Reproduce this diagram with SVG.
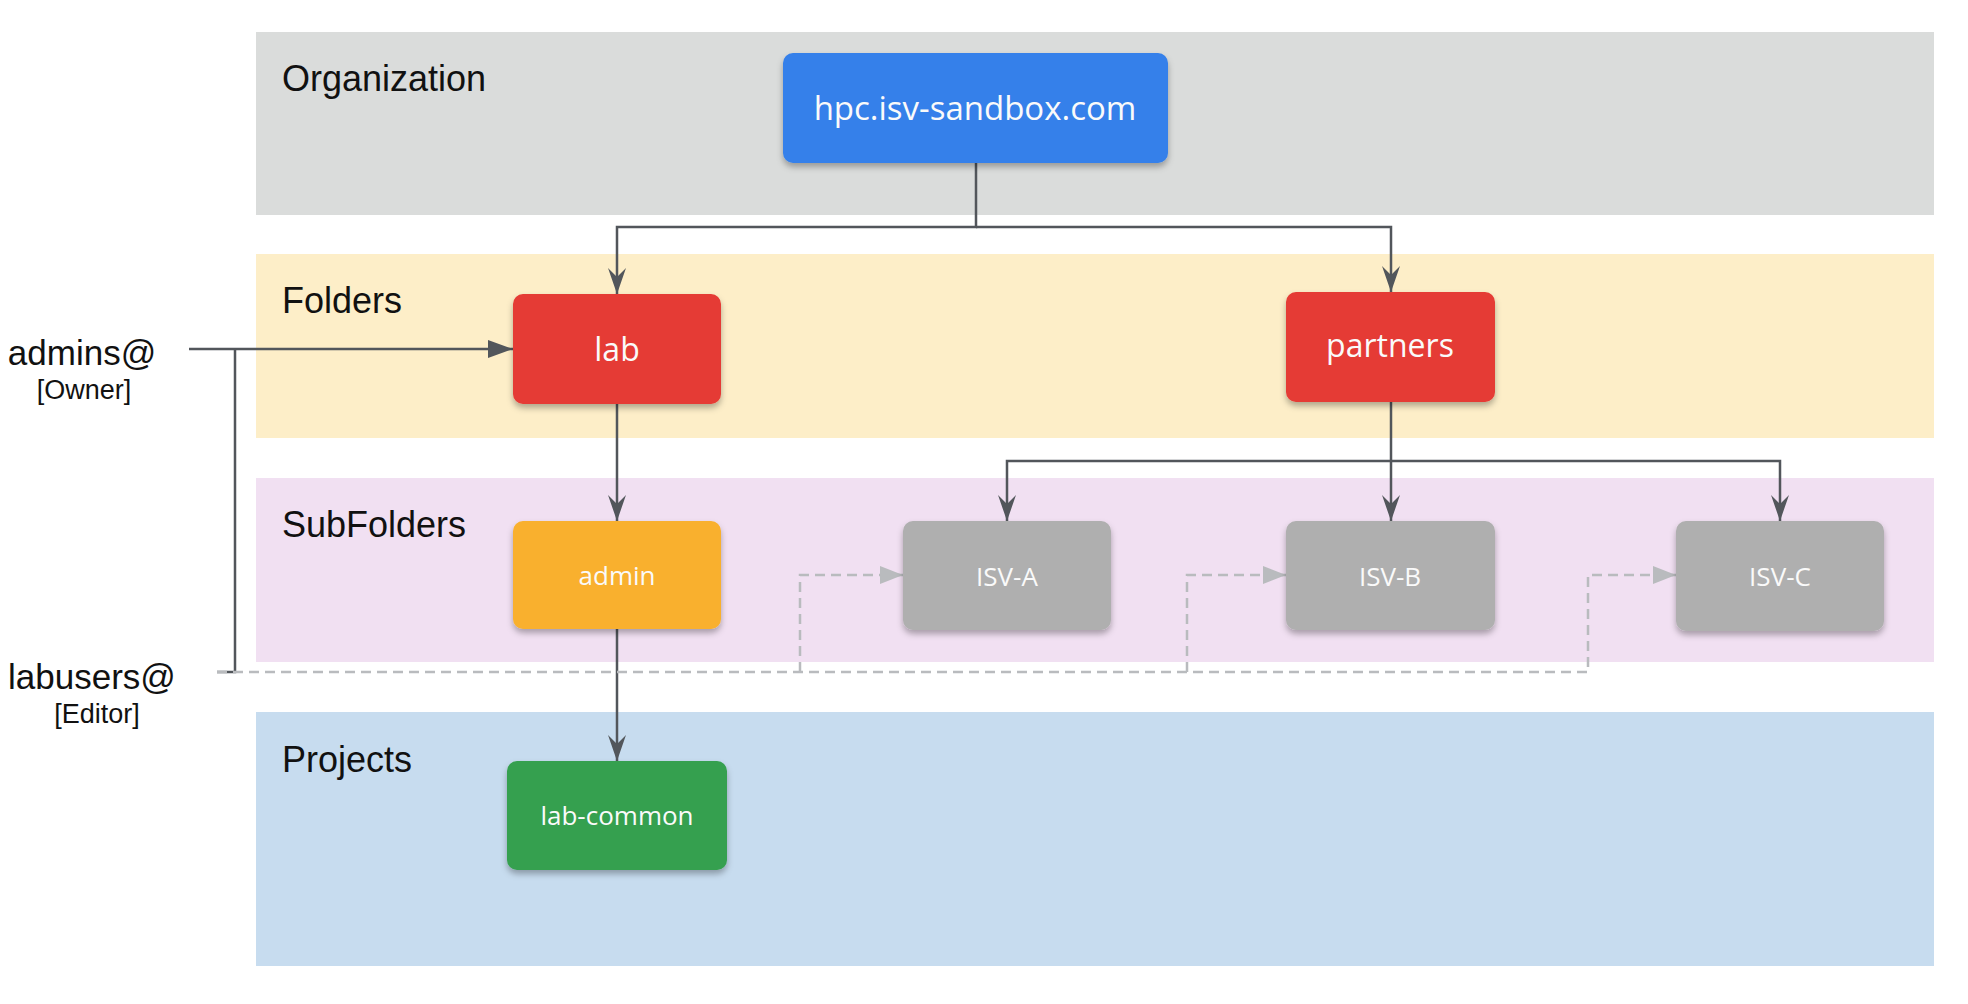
<svg xmlns="http://www.w3.org/2000/svg" width="1968" height="1004" viewBox="0 0 1968 1004">
<style>
.band-label{font-family:"Liberation Sans",Arial,sans-serif;font-size:36px;fill:#111}
.side{font-family:"Liberation Sans",Arial,sans-serif;fill:#111;text-anchor:middle}
.nt{font-family:"Open Sans","Noto Sans",sans-serif;fill:#fafafa;text-anchor:middle}
.big{font-size:32px}
.small{font-size:26px}
.node{filter:url(#sh)}
.conn{fill:none;stroke:#52565b;stroke-width:2.5}
.dash{fill:none;stroke:#b9bbbe;stroke-width:2.5;stroke-dasharray:10 6}
</style>
<defs>
<filter id="sh" x="-20%" y="-20%" width="140%" height="150%">
<feDropShadow dx="0" dy="4" stdDeviation="3" flood-color="#000" flood-opacity="0.3"/>
</filter>
<marker id="barb" markerUnits="userSpaceOnUse" viewBox="-27 -10 28 20" refX="0" refY="0" markerWidth="28" markerHeight="20" orient="auto">
<path d="M0,0 L-26,-9 L-17,0 L-26,9 Z" fill="#52565b"/>
</marker>
<marker id="tri" markerUnits="userSpaceOnUse" viewBox="-26 -10 27 20" refX="0" refY="0" markerWidth="27" markerHeight="20" orient="auto">
<path d="M0,0 L-25,-9 L-25,9 Z" fill="#52565b"/>
</marker>
<marker id="dtri" markerUnits="userSpaceOnUse" viewBox="-24 -10 25 20" refX="0" refY="0" markerWidth="25" markerHeight="20" orient="auto">
<path d="M0,0 L-23,-9 L-23,9 Z" fill="#b9bbbe"/>
</marker>
</defs>
<rect width="1968" height="1004" fill="#ffffff"/>
<g id="bands">
<rect x="256" y="32" width="1678" height="183" fill="#dadcdb"/>
<rect x="256" y="254" width="1678" height="184" fill="#fdeec8"/>
<rect x="256" y="478" width="1678" height="184" fill="#f1e0f2"/>
<rect x="256" y="712" width="1678" height="254" fill="#c7dcef"/>
<text class="band-label" x="282" y="91">Organization</text>
<text class="band-label" x="282" y="313">Folders</text>
<text class="band-label" x="282" y="537">SubFolders</text>
<text class="band-label" x="282" y="772">Projects</text>
</g>
<g id="connectors">
<path class="conn" d="M976,163 V227 H617 V294" marker-end="url(#barb)"/>
<path class="conn" d="M976,227 H1391 V292" marker-end="url(#barb)"/>
<path class="conn" d="M617,404 V521" marker-end="url(#barb)"/>
<path class="conn" d="M1391,402 V521" marker-end="url(#barb)"/>
<path class="conn" d="M1391,461 H1007 V521" marker-end="url(#barb)"/>
<path class="conn" d="M1391,461 H1780 V521" marker-end="url(#barb)"/>
<path class="conn" d="M617,629 V761" marker-end="url(#barb)"/>
<path class="conn" d="M189,349 H513" marker-end="url(#tri)"/>
<path class="conn" d="M235,349 V672 H217"/>
<path class="dash" d="M217,672 H1588 V575 H1676" marker-end="url(#dtri)"/>
<path class="dash" d="M800,672 V575 H903" marker-end="url(#dtri)"/>
<path class="dash" d="M1187,672 V575 H1286" marker-end="url(#dtri)"/>
</g>
<g id="org">
<rect class="node" x="783" y="53" width="385" height="110" rx="10" fill="#3580ea"/>
<text class="nt" x="975" y="120" font-size="33">hpc.isv-sandbox.com</text>
</g>
<g id="lab">
<rect class="node" x="513" y="294" width="208" height="110" rx="10" fill="#e53a34"/>
<text class="nt big" x="617" y="361">lab</text>
</g>
<g id="partners">
<rect class="node" x="1286" y="292" width="209" height="110" rx="10" fill="#e53a34"/>
<text class="nt big" x="1390" y="357">partners</text>
</g>
<g id="admin">
<rect class="node" x="513" y="521" width="208" height="108" rx="10" fill="#f9b02e"/>
<text class="nt small" x="617" y="585">admin</text>
</g>
<g id="isv-a">
<rect class="node" x="903" y="521" width="208" height="109" rx="10" fill="#afafaf"/>
<text class="nt small" x="1007" y="586">ISV-A</text>
</g>
<g id="isv-b">
<rect class="node" x="1286" y="521" width="209" height="109" rx="10" fill="#afafaf"/>
<text class="nt small" x="1390" y="586">ISV-B</text>
</g>
<g id="isv-c">
<rect class="node" x="1676" y="521" width="208" height="110" rx="10" fill="#afafaf"/>
<text class="nt small" x="1780" y="586">ISV-C</text>
</g>
<g id="lab-common">
<rect class="node" x="507" y="761" width="220" height="109" rx="10" fill="#35a04f"/>
<text class="nt small" x="617" y="825">lab-common</text>
</g>
<g id="admins">
<text class="side" x="82" y="365" font-size="35">admins@</text>
<text class="side" x="84" y="399" font-size="27">[Owner]</text>
</g>
<g id="labusers">
<text class="side" x="92" y="689" font-size="35">labusers@</text>
<text class="side" x="97" y="723" font-size="27">[Editor]</text>
</g>
</svg>
